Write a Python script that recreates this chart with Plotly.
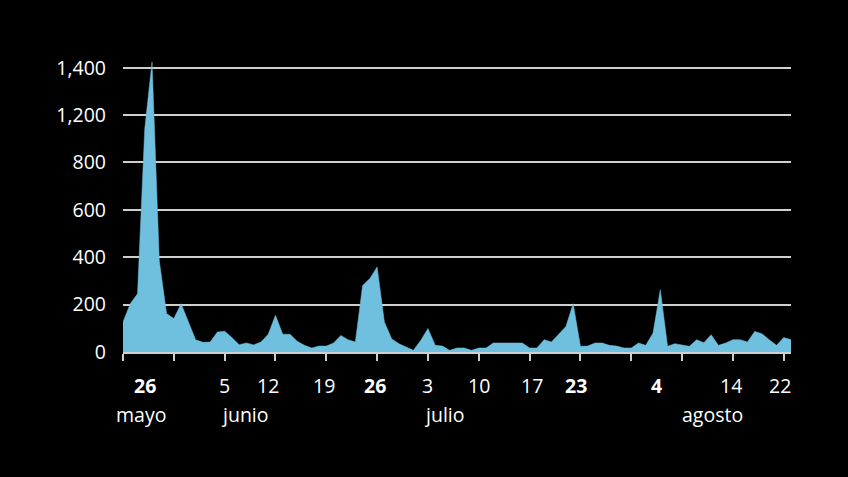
import pandas as pd
import plotly.graph_objects as go

# Daily values, 22 May 2019 – 22 Aug 2019
start_date = "2019-05-22"
values = [
    127, 204, 246, 943, 1224, 385, 162, 141, 204, 130,
    52, 41, 42, 84, 88, 61, 31, 38, 30, 42,
    75, 155, 75, 75, 45, 28, 17, 25, 25, 38,
    70, 52, 42, 281, 310, 359, 127, 56, 35, 21,
    7, 49, 99, 28, 25, 7, 17, 17, 7, 17,
    17, 38, 38, 38, 38, 38, 17, 17, 52, 42,
    75, 108, 204, 24, 25, 38, 38, 28, 25, 17,
    17, 38, 28, 80, 263, 24, 35, 28, 24, 52,
    39, 73, 28, 38, 52, 52, 42, 87, 77, 52,
    28, 61, 52,
]
dates = pd.date_range(start_date, periods=len(values), freq="D")

# y axis ticks (labels as printed in the original)
y_tickvals = [0, 200, 400, 600, 800, 1000, 1200]
y_ticktext = ["0", "200", "400", "600", "800", "1,200", "1,400"]

# weekly tick marks on the x axis
x_tick_dates = pd.date_range(start_date, "2019-08-21", freq="7D")

# day labels under the axis
day_label_dates = ["2019-05-26", "2019-06-05", "2019-06-12", "2019-06-19", "2019-06-26",
                   "2019-07-03", "2019-07-10", "2019-07-17", "2019-07-23", "2019-08-04",
                   "2019-08-14", "2019-08-22"]
day_label_text = ["26", "5", "12", "19", "26", "3", "10", "17", "23", "4", "14", "22"]
day_label_bold = [True, False, False, False, True, False, False, False, True, True, False, False]
day_label_shift = [-7, 0, -7, -2, -2, 0, 0, 2, 3, -4, -2, -11]

# month labels
month_label_dates = ["2019-05-24 12:00", "2019-06-07 20:00", "2019-07-05 06:00", "2019-08-11 06:00"]
month_label_text = ["mayo", "junio", "julio", "agosto"]

FONT = "Open Sans"
FSIZE = 19.5
FILL = "#6fc0df"
GRID = "#cfcfcf"

fig = go.Figure()
fig.add_trace(go.Scatter(
    x=dates, y=values, mode="lines", fill="tozeroy",
    fillcolor=FILL, line=dict(color=FILL, width=0.5),
    hoverinfo="skip", showlegend=False,
))

annotations = []
for d, t, b, s in zip(day_label_dates, day_label_text, day_label_bold, day_label_shift):
    annotations.append(dict(
        x=d, y=0, xref="x", yref="paper", text=f"<b>{t}</b>" if b else t,
        showarrow=False, xanchor="center", yanchor="middle", yshift=-33, xshift=s,
        font=dict(family=FONT, size=FSIZE, color="white"),
    ))
for d, t in zip(month_label_dates, month_label_text):
    annotations.append(dict(
        x=d, y=0, xref="x", yref="paper", text=t,
        showarrow=False, xanchor="center", yanchor="middle", yshift=-62,
        font=dict(family=FONT, size=FSIZE, color="white"),
    ))

fig.update_layout(
    width=848, height=477,
    margin=dict(l=123, r=57, t=53, b=125),
    paper_bgcolor="black", plot_bgcolor="black",
    font=dict(family=FONT, size=FSIZE, color="white"),
    xaxis=dict(
        type="date", range=[dates[0], dates[-1]],
        tickvals=list(x_tick_dates), showticklabels=False,
        ticks="outside", ticklen=7, tickwidth=2, tickcolor=GRID,
        showline=True, linecolor=GRID, linewidth=2,
        showgrid=False, zeroline=False,
    ),
    yaxis=dict(
        range=[0, 1262], tickvals=y_tickvals, ticktext=y_ticktext,
        showgrid=True, gridcolor=GRID, gridwidth=2,
        zeroline=False, showline=False, ticks="",
        ticklabelstandoff=16,
        tickfont=dict(family=FONT, size=FSIZE, color="white"),
    ),
    annotations=annotations,
)

fig.write_html("out.html")
